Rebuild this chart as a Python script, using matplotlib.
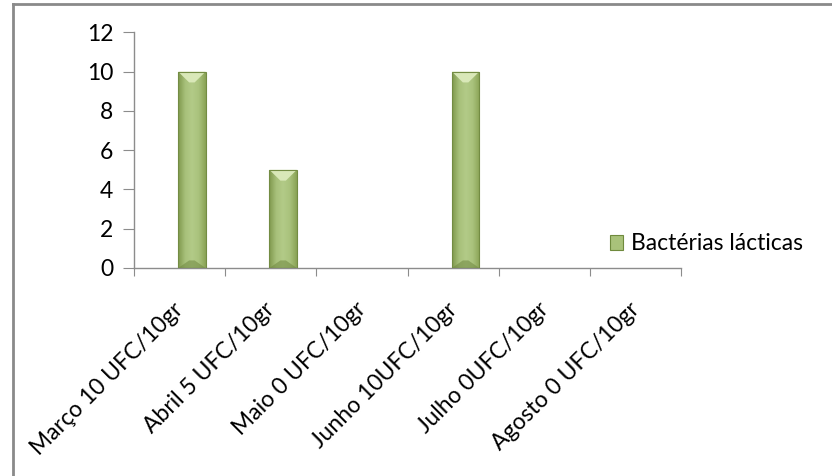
import matplotlib
matplotlib.use("Agg")
import matplotlib.pyplot as plt
import matplotlib.transforms as mtransforms
import numpy as np
from matplotlib.colors import LinearSegmentedColormap
from matplotlib.patches import Rectangle, Polygon
from matplotlib.lines import Line2D

# monthly counts of lactic acid bacteria
categories = [
    "Março 10 UFC/10gr",
    "Abril 5 UFC/10gr",
    "Maio 0 UFC/10gr",
    "Junho 10UFC/10gr",
    "Julho 0UFC/10gr",
    "Agosto 0 UFC/10gr",
]
values = [10, 5, 0, 10, 0, 0]
series_name = "Bactérias lácticas"
y_ticks = [0, 2, 4, 6, 8, 10, 12]

plt.rcParams["font.family"] = ["Lato", "DejaVu Sans"]
FS = 16.5

fig = plt.figure(figsize=(8.32, 4.76), dpi=100)
ax = fig.add_axes([0.161, 0.437, 0.658, 0.495])

# outer chart frame (top and left edges visible)
fig.add_artist(Line2D([13 / 832, 13 / 832], [0, 1 - 4 / 476], transform=fig.transFigure,
                      color="#8a8a8a", lw=2))
fig.add_artist(Line2D([13 / 832, 1], [1 - 4 / 476, 1 - 4 / 476], transform=fig.transFigure,
                      color="#8a8a8a", lw=2))

green = LinearSegmentedColormap.from_list(
    "bar_green", ["#7f984c", "#a7c07a", "#b3cb88", "#a9c27c", "#8aa356"])
grad = np.linspace(0, 1, 64).reshape(1, -1)

x = np.arange(len(categories))
bar_w = 0.30
offset = 0.135
bevel = 0.55
for xi, v in zip(x, values):
    if v <= 0:
        continue
    left = xi + offset - bar_w / 2
    rect = Rectangle((left, 0), bar_w, v, facecolor="none", edgecolor="#738c43", lw=0.8, zorder=4)
    ax.add_patch(rect)
    im = ax.imshow(grad, cmap=green, aspect="auto", extent=(left, left + bar_w, 0, v),
                   zorder=2, interpolation="bicubic")
    im.set_clip_path(rect)
    # bevel highlight at the top of the bar
    top = Polygon([(left, v), (left + bar_w, v), (left + bar_w * 0.6, v - bevel),
                   (left + bar_w * 0.4, v - bevel)], closed=True,
                  facecolor="#d9e8b8", edgecolor="none", zorder=3)
    ax.add_patch(top)
    bot = Polygon([(left, 0), (left + bar_w, 0), (left + bar_w * 0.6, bevel * 0.7),
                   (left + bar_w * 0.4, bevel * 0.7)], closed=True,
                  facecolor="#6f8840", edgecolor="none", alpha=0.55, zorder=3)
    ax.add_patch(bot)

ax.set_xlim(-0.5, len(categories) - 0.5)
ax.set_ylim(0, 12)
ax.set_yticks(y_ticks)
ax.set_yticklabels([str(t) for t in y_ticks], fontsize=FS)
ax.set_xticks(np.arange(len(categories) + 1) - 0.5, minor=False)
ax.set_xticklabels([])
ax.set_xticks(x, minor=True)
ax.set_xticklabels(categories, minor=True, rotation=45, ha="right",
                   rotation_mode="anchor", fontsize=FS)
ax.tick_params(axis="x", which="minor", length=0, pad=22)
ax.tick_params(axis="x", which="major", length=6, color="#8c8c8c")
ax.tick_params(axis="y", length=8, color="#8c8c8c", pad=7)

# nudge the slanted category labels a little to the left
shift = mtransforms.ScaledTranslation(-7 / 100, 0, fig.dpi_scale_trans)
for lbl in ax.get_xticklabels(minor=True):
    lbl.set_transform(lbl.get_transform() + shift)

for side in ["top", "right"]:
    ax.spines[side].set_visible(False)
for side in ["left", "bottom"]:
    ax.spines[side].set_color("#8c8c8c")
    ax.spines[side].set_linewidth(1)

handle = Rectangle((0, 0), 1, 1, facecolor="#a9c27a", edgecolor="#6f8a3d", lw=0.8)
fig.legend([handle], [series_name], loc="center left",
           bbox_to_anchor=(589 / 832, 1 - 244 / 476), frameon=False, fontsize=FS,
           handlelength=0.6, handleheight=0.6, handletextpad=0.35)

fig.savefig("out.png", dpi=100, facecolor="white")
